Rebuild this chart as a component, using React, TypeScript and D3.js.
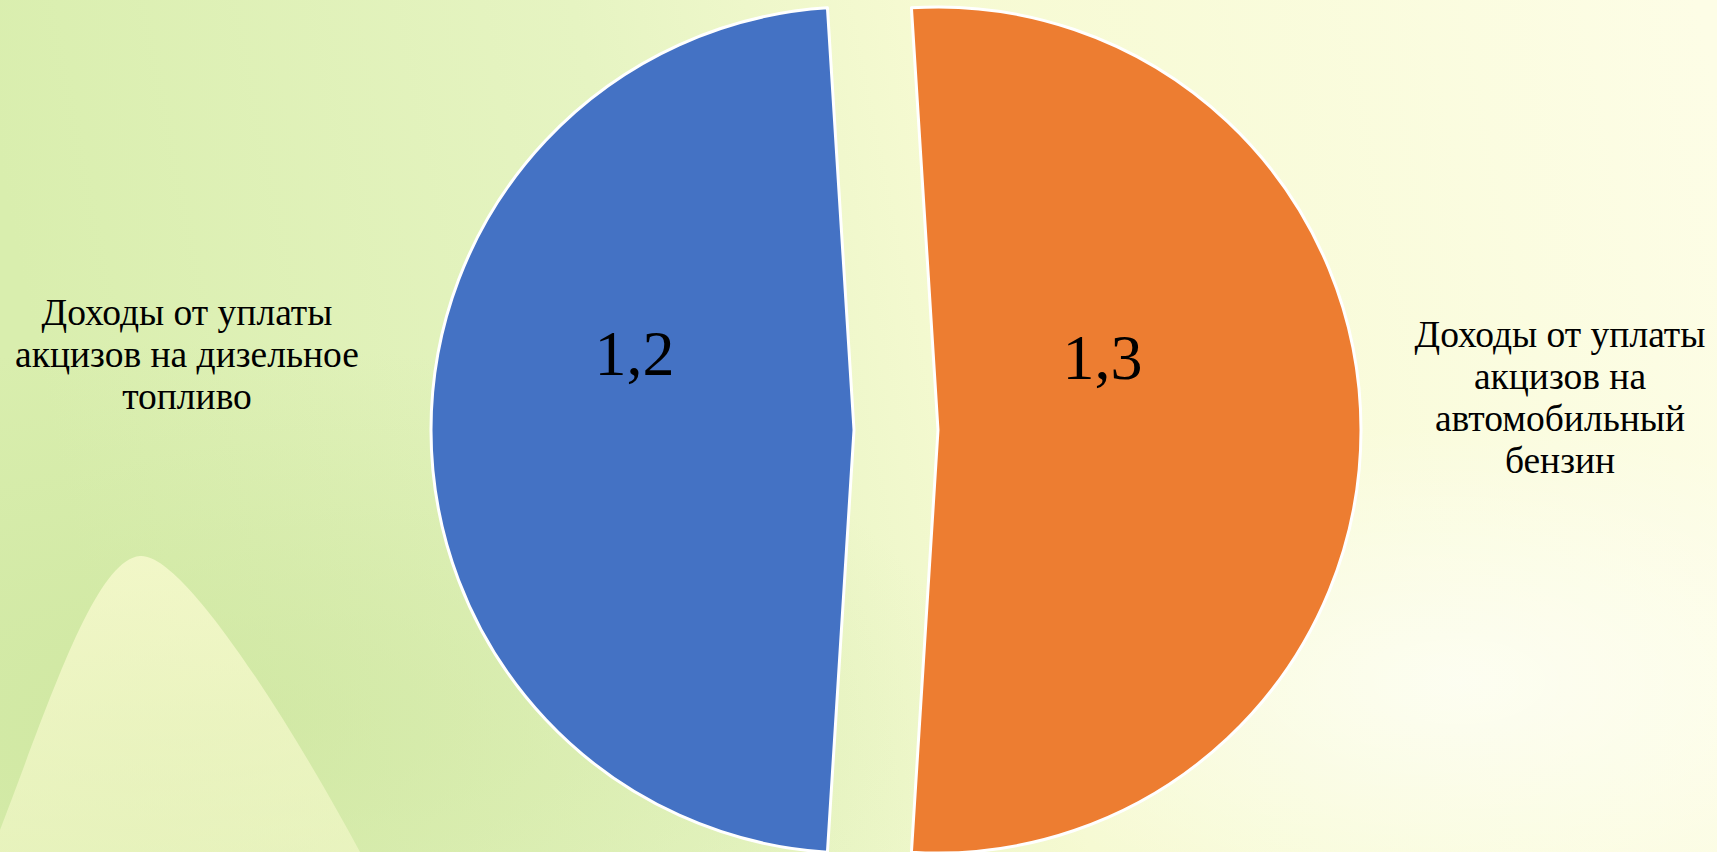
import React from 'react';
import * as d3 from 'd3';

// values as shown on the slide (trillions)
const categories = [
  'Доходы от уплаты акцизов на автомобильный бензин',
  'Доходы от уплаты акцизов на дизельное топливо',
];
const values = [1.3, 1.2];
const valueLabels = ['1,3', '1,2'];
const categoryLines = [
  ['Доходы от уплаты', 'акцизов на', 'автомобильный', 'бензин'],
  ['Доходы от уплаты', 'акцизов на дизельное', 'топливо'],
];
const colors = ['#ED7D31', '#4472C4'];

const W = 1717;
const H = 852;
const cx = 896;
const cy = 430;
const radius = 423;
const explode = 42;
const rotation = (-3.6 * Math.PI) / 180;

// value label placement relative to each exploded slice centre (angle deg, distance)
const valueLabelPolar = [
  [66, 180],
  [-70.5, 233],
];
// category label anchors
const categoryAnchor = [
  [1560, 347],
  [187, 325],
];

const App = () => {
  const pie = d3
    .pie<number>()
    .sort(null)
    .value((d) => d)
    .startAngle(rotation)
    .endAngle(rotation + 2 * Math.PI);
  const arc = d3.arc<d3.PieArcDatum<number>>().innerRadius(0).outerRadius(radius);
  const arcs = pie(values);

  const font = '"Liberation Serif", "Times New Roman", serif';

  return (
    <svg
      width={W}
      height={H}
      style={{ position: 'absolute', left: 0, top: 0, display: 'block' }}
    >
      <defs>
        <linearGradient id="bg" x1="0" y1="0.2" x2="1" y2="0.1">
          <stop offset="0" stopColor="#d9eeae" />
          <stop offset="0.35" stopColor="#e6f4c2" />
          <stop offset="0.55" stopColor="#f6fad2" />
          <stop offset="1" stopColor="#fdfde6" />
        </linearGradient>
        <radialGradient id="glowLeft" cx="0.12" cy="0.85" r="0.45">
          <stop offset="0" stopColor="#c9e39a" stopOpacity="0.6" />
          <stop offset="1" stopColor="#c9e39a" stopOpacity="0" />
        </radialGradient>
        <radialGradient id="glowRight" cx="0.85" cy="0.8" r="0.3">
          <stop offset="0" stopColor="#ffffff" stopOpacity="0.6" />
          <stop offset="1" stopColor="#ffffff" stopOpacity="0" />
        </radialGradient>
        <linearGradient id="leaf" x1="0" y1="0" x2="0" y2="1">
          <stop offset="0" stopColor="#fbfbd2" stopOpacity="0.75" />
          <stop offset="1" stopColor="#fbfbd2" stopOpacity="0.5" />
        </linearGradient>
      </defs>
      <rect width={W} height={H} fill="url(#bg)" />
      <rect width={W} height={H} fill="url(#glowLeft)" />
      <rect width={W} height={H} fill="url(#glowRight)" />
      <path
        d="M0,852 L0,830 C50,700 95,560 140,556 C185,552 300,740 360,852 Z"
        fill="url(#leaf)"
      />

      {arcs.map((a, i) => {
        const mid = (a.startAngle + a.endAngle) / 2;
        const ox = cx + explode * Math.sin(mid);
        const oy = cy - explode * Math.cos(mid);
        const [ang, dist] = valueLabelPolar[i];
        const lr = (ang * Math.PI) / 180;
        return (
          <g key={categories[i]} transform={`translate(${ox},${oy})`}>
            <path d={arc(a) || ''} fill={colors[i]} stroke="#ffffff" strokeWidth={3} strokeLinejoin="round" />
            <text
              x={dist * Math.sin(lr)}
              y={-dist * Math.cos(lr)}
              dy="0.35em"
              textAnchor="middle"
              fontFamily={font}
              fontSize={64}
              fill="#000"
            >
              {valueLabels[i]}
            </text>
          </g>
        );
      })}

      {categoryLines.map((lines, i) => (
        <text
          key={categories[i]}
          x={categoryAnchor[i][0]}
          y={categoryAnchor[i][1]}
          textAnchor="middle"
          fontFamily={font}
          fontSize={37.5}
          fill="#000"
        >
          {lines.map((l, j) => (
            <tspan key={j} x={categoryAnchor[i][0]} dy={j === 0 ? 0 : 42}>
              {l}
            </tspan>
          ))}
        </text>
      ))}
    </svg>
  );
};

export default App;
